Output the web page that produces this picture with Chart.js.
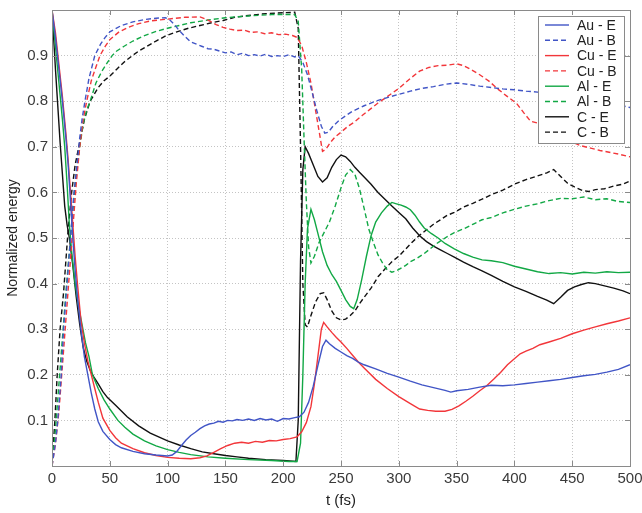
<!DOCTYPE html>
<html>
<head>
<meta charset="utf-8">
<script src="https://cdn.jsdelivr.net/npm/chart.js@4.4.1/dist/chart.umd.min.js"></script>
<style>
  html, body { margin: 0; padding: 0; background: #fff; }
  #wrap { width: 642px; height: 513px; }
</style>
</head>
<body>
<div id="wrap"><canvas id="energy" width="642" height="513"></canvas></div>
<script>
// [t (fs), normalized energy]
const auE = [[0,1],[3,0.94],[6,0.87],[9,0.8],[12,0.72],[14,0.66],[16,0.58],[18,0.5],[20,0.43],[22,0.37],[25,0.3],[28,0.24],[31,0.2],[34,0.16],[37,0.125],[40,0.097],[44,0.076],[50,0.058],[55,0.047],[60,0.04],[70,0.032],[80,0.027],[90,0.024],[100,0.022],[104,0.024],[108,0.032],[112,0.045],[116,0.057],[120,0.067],[124,0.074],[128,0.082],[132,0.088],[136,0.092],[140,0.094],[144,0.098],[148,0.096],[152,0.1],[156,0.099],[160,0.102],[165,0.1],[170,0.103],[175,0.1],[180,0.104],[185,0.101],[190,0.103],[195,0.098],[200,0.104],[205,0.103],[210,0.106],[214,0.108],[218,0.118],[222,0.14],[226,0.175],[230,0.22],[234,0.262],[237,0.276],[240,0.268],[245,0.258],[250,0.25],[255,0.242],[260,0.236],[265,0.228],[270,0.222],[280,0.213],[290,0.203],[300,0.195],[310,0.186],[320,0.178],[330,0.172],[340,0.166],[345,0.162],[350,0.165],[360,0.168],[370,0.173],[380,0.177],[390,0.176],[400,0.178],[410,0.181],[420,0.184],[430,0.187],[440,0.19],[450,0.194],[460,0.198],[470,0.201],[480,0.206],[490,0.212],[500,0.222]];
const auB = [[0,0],[3,0.05],[5,0.1],[8,0.2],[10,0.3],[13,0.4],[16,0.5],[19,0.6],[22,0.67],[24,0.72],[26,0.76],[28.5,0.8],[32,0.85],[37,0.9],[42,0.925],[46,0.94],[50,0.952],[60,0.966],[70,0.974],[80,0.979],[90,0.982],[98,0.983],[102,0.978],[106,0.968],[110,0.955],[115,0.942],[120,0.93],[125,0.925],[130,0.92],[135,0.915],[140,0.914],[145,0.91],[150,0.906],[155,0.908],[160,0.902],[165,0.905],[170,0.9],[175,0.902],[180,0.899],[185,0.903],[190,0.898],[195,0.9],[200,0.898],[205,0.902],[210,0.897],[213,0.9],[217,0.885],[221,0.858],[225,0.82],[229,0.78],[233,0.745],[236,0.73],[239,0.732],[243,0.745],[248,0.757],[254,0.768],[260,0.778],[270,0.79],[280,0.8],[290,0.808],[300,0.815],[310,0.822],[320,0.828],[330,0.832],[340,0.837],[350,0.84],[360,0.837],[370,0.833],[380,0.83],[390,0.827],[400,0.825],[410,0.822],[420,0.82],[430,0.817],[440,0.812],[450,0.81],[460,0.806],[470,0.802],[480,0.797],[490,0.792],[500,0.786]];
const cuE = [[0,1],[3,0.95],[6,0.88],[9,0.81],[12,0.73],[14,0.67],[16,0.6],[18,0.53],[20,0.46],[22,0.4],[25,0.32],[28,0.27],[31,0.23],[34,0.2],[37,0.17],[40,0.14],[44,0.105],[50,0.078],[55,0.062],[60,0.05],[70,0.038],[80,0.029],[90,0.023],[100,0.019],[110,0.017],[120,0.016],[128,0.018],[134,0.022],[140,0.03],[146,0.038],[152,0.045],[158,0.05],[164,0.052],[170,0.05],[176,0.054],[182,0.052],[188,0.056],[194,0.055],[200,0.058],[206,0.06],[212,0.064],[216,0.075],[220,0.095],[224,0.13],[227,0.18],[230,0.24],[233,0.3],[235,0.315],[238,0.305],[242,0.293],[246,0.282],[250,0.272],[255,0.258],[260,0.243],[265,0.228],[270,0.215],[280,0.19],[290,0.17],[300,0.152],[310,0.137],[318,0.125],[325,0.122],[332,0.12],[340,0.12],[346,0.124],[352,0.132],[358,0.142],[364,0.153],[370,0.165],[376,0.176],[382,0.19],[388,0.205],[394,0.222],[400,0.235],[405,0.246],[410,0.252],[416,0.258],[422,0.266],[430,0.272],[440,0.28],[450,0.29],[460,0.298],[470,0.305],[480,0.312],[490,0.318],[500,0.325]];
const cuB = [[0,0],[3,0.05],[6,0.12],[9,0.22],[12,0.32],[15,0.42],[18,0.52],[21,0.62],[24,0.7],[27,0.76],[30,0.8],[34,0.845],[38,0.875],[41.5,0.9],[46,0.92],[50,0.935],[58,0.952],[66,0.962],[75,0.97],[85,0.976],[100,0.98],[115,0.984],[128,0.985],[135,0.978],[142,0.968],[148,0.962],[154,0.958],[160,0.955],[166,0.956],[172,0.951],[178,0.952],[184,0.948],[190,0.95],[196,0.946],[202,0.947],[208,0.944],[212,0.94],[216,0.922],[220,0.885],[224,0.84],[228,0.78],[231,0.735],[234,0.69],[237,0.695],[241,0.71],[245,0.722],[250,0.732],[256,0.745],[262,0.755],[268,0.768],[275,0.782],[282,0.796],[290,0.81],[300,0.828],[310,0.85],[318,0.866],[326,0.874],[334,0.878],[342,0.879],[350,0.882],[356,0.878],[362,0.87],[370,0.858],[378,0.844],[386,0.826],[394,0.81],[402,0.795],[408,0.775],[414,0.756],[420,0.752],[426,0.745],[434,0.73],[442,0.72],[450,0.71],[458,0.702],[466,0.697],[474,0.692],[482,0.688],[490,0.684],[500,0.678]];
const alE = [[0,1],[3,0.92],[6,0.84],[9,0.76],[11,0.7],[13,0.62],[15,0.53],[17,0.47],[20,0.4],[23,0.35],[26,0.31],[29,0.27],[32,0.24],[35,0.2],[40,0.17],[45,0.145],[50,0.125],[57,0.1],[63,0.085],[70,0.07],[80,0.055],[90,0.044],[100,0.036],[110,0.03],[120,0.025],[135,0.02],[150,0.017],[170,0.014],[190,0.012],[205,0.01],[212,0.01],[215,0.05],[217,0.2],[219,0.4],[221,0.52],[224,0.563],[227,0.54],[230,0.51],[234,0.47],[238,0.44],[242,0.42],[246,0.405],[250,0.385],[254,0.365],[258,0.35],[261,0.345],[264,0.365],[268,0.41],[272,0.46],[276,0.505],[280,0.535],[285,0.555],[290,0.57],[294,0.578],[298,0.575],[302,0.572],[306,0.568],[310,0.562],[314,0.55],[318,0.535],[322,0.522],[328,0.51],[334,0.5],[340,0.488],[348,0.476],[356,0.466],[364,0.458],[372,0.452],[380,0.45],[390,0.446],[400,0.438],[410,0.432],[420,0.426],[430,0.422],[440,0.424],[450,0.421],[460,0.425],[470,0.423],[480,0.426],[490,0.424],[500,0.425]];
const alB = [[0,0],[3,0.08],[6,0.18],[9,0.28],[12,0.38],[15,0.47],[18,0.56],[21,0.64],[24,0.7],[27,0.75],[30,0.78],[33,0.8],[38,0.84],[43,0.865],[48,0.885],[52,0.9],[56,0.91],[62,0.92],[70,0.932],[80,0.944],[90,0.953],[100,0.96],[110,0.966],[120,0.972],[135,0.978],[150,0.983],[170,0.987],[190,0.99],[210,0.99],[213,0.975],[216,0.87],[218,0.72],[220,0.58],[222,0.48],[224,0.445],[227,0.46],[231,0.49],[235,0.51],[240,0.535],[245,0.57],[250,0.61],[254,0.638],[258,0.65],[262,0.64],[266,0.608],[270,0.565],[274,0.52],[278,0.49],[282,0.463],[286,0.445],[290,0.43],[294,0.425],[298,0.428],[302,0.434],[306,0.44],[310,0.448],[316,0.456],[322,0.466],[328,0.478],[334,0.49],[340,0.5],[348,0.512],[356,0.52],[364,0.53],[372,0.54],[380,0.545],[390,0.555],[400,0.563],[410,0.57],[420,0.575],[430,0.582],[440,0.587],[450,0.586],[460,0.59],[470,0.584],[480,0.586],[490,0.58],[500,0.578]];
const cE = [[0,1],[3,0.87],[5,0.79],[7,0.71],[9,0.64],[11,0.57],[13,0.53],[15,0.5],[18,0.44],[21,0.37],[24,0.31],[27,0.26],[30,0.23],[33,0.21],[36,0.196],[40,0.18],[44,0.163],[48,0.15],[55,0.133],[65,0.108],[75,0.088],[85,0.072],[100,0.055],[110,0.046],[120,0.038],[130,0.031],[140,0.027],[150,0.023],[160,0.02],[170,0.017],[185,0.014],[200,0.012],[211,0.01],[213,0.1],[215,0.45],[217,0.65],[219,0.7],[222,0.685],[226,0.66],[230,0.635],[234,0.623],[238,0.632],[242,0.655],[246,0.672],[250,0.682],[254,0.678],[258,0.668],[262,0.655],[266,0.644],[270,0.634],[276,0.618],[282,0.6],[288,0.585],[294,0.57],[300,0.556],[306,0.542],[312,0.522],[318,0.505],[324,0.492],[330,0.482],[336,0.474],[342,0.466],[348,0.458],[356,0.447],[364,0.437],[372,0.428],[380,0.418],[390,0.405],[400,0.393],[410,0.383],[420,0.372],[428,0.364],[434,0.356],[440,0.37],[446,0.385],[452,0.393],[458,0.398],[464,0.402],[470,0.4],[478,0.395],[486,0.39],[494,0.384],[500,0.378]];
const cB = [[0,0],[2.5,0.1],[4.5,0.2],[7,0.3],[10,0.38],[12,0.45],[14,0.52],[17,0.6],[20,0.66],[24,0.71],[28,0.76],[33,0.8],[40,0.83],[45,0.845],[50,0.855],[56,0.87],[62,0.885],[68,0.897],[75,0.91],[82,0.92],[90,0.932],[99,0.944],[108,0.952],[118,0.96],[128,0.966],[138,0.972],[148,0.977],[158,0.984],[170,0.988],[185,0.992],[200,0.994],[210,0.995],[213,0.96],[215,0.7],[217,0.4],[219,0.31],[221,0.305],[224,0.33],[228,0.36],[232,0.378],[235,0.38],[238,0.365],[242,0.34],[246,0.325],[250,0.32],[254,0.322],[258,0.33],[262,0.34],[266,0.356],[270,0.37],[276,0.39],[282,0.415],[288,0.432],[294,0.448],[300,0.46],[306,0.476],[312,0.492],[318,0.506],[324,0.518],[330,0.53],[336,0.54],[342,0.55],[348,0.556],[356,0.568],[364,0.576],[372,0.585],[380,0.595],[390,0.605],[400,0.618],[410,0.628],[420,0.636],[428,0.643],[434,0.65],[440,0.635],[446,0.62],[452,0.612],[458,0.605],[464,0.602],[470,0.606],[478,0.608],[486,0.614],[494,0.618],[500,0.625]];

const seriesLabels = ['Au - E', 'Au - B', 'Cu - E', 'Cu - B', 'Al - E', 'Al - B', 'C - E', 'C - B'];
const seriesData = [auE, auB, cuE, cuB, alE, alB, cE, cB];
const seriesColors = ['#4155c6', '#4155c6', '#f2363a', '#f2363a', '#12a845', '#12a845', '#111111', '#111111'];
const seriesDashed = [false, true, false, true, false, true, false, true];

const xTicks = [0, 50, 100, 150, 200, 250, 300, 350, 400, 450, 500];
const yTicks = [0.1, 0.2, 0.3, 0.4, 0.5, 0.6, 0.7, 0.8, 0.9];

const FONT = '"Liberation Sans", Arial, sans-serif';
const DASH = [5, 3];

const datasets = seriesData.map((d, i) => ({
  label: seriesLabels[i],
  data: d.map(p => ({ x: p[0], y: p[1] })),
  borderColor: seriesColors[i],
  borderWidth: 1.4,
  borderDash: seriesDashed[i] ? DASH : [],
  pointRadius: 0,
  tension: 0,
  fill: false
}));

// matlab style box, inward ticks and the legend in the top right corner
const boxPlugin = {
  id: 'box',
  afterDraw(chart) {
    const { ctx, chartArea: a, scales } = chart;
    ctx.save();
    ctx.strokeStyle = '#8a8a8a';
    ctx.lineWidth = 1;
    ctx.setLineDash([]);
    ctx.strokeRect(a.left + 0.5, a.top + 0.5, a.right - a.left, a.bottom - a.top);
    ctx.beginPath();
    xTicks.forEach(v => {
      const x = Math.round(scales.x.getPixelForValue(v)) + 0.5;
      ctx.moveTo(x, a.bottom); ctx.lineTo(x, a.bottom - 5);
      ctx.moveTo(x, a.top); ctx.lineTo(x, a.top + 5);
    });
    yTicks.forEach(v => {
      const y = Math.round(scales.y.getPixelForValue(v)) + 0.5;
      ctx.moveTo(a.left, y); ctx.lineTo(a.left + 5, y);
      ctx.moveTo(a.right, y); ctx.lineTo(a.right - 5, y);
    });
    ctx.stroke();

    // legend
    const lx = a.right - 92, ly = a.top + 6, lw = 86, lh = 127;
    ctx.fillStyle = '#fff';
    ctx.fillRect(lx, ly, lw, lh);
    ctx.strokeStyle = '#8a8a8a';
    ctx.strokeRect(lx + 0.5, ly + 0.5, lw, lh);
    ctx.font = '14px ' + FONT;
    ctx.textBaseline = 'middle';
    ctx.textAlign = 'left';
    chart.data.datasets.forEach((ds, i) => {
      const y = ly + 9 + i * 15.3;
      ctx.strokeStyle = ds.borderColor;
      ctx.lineWidth = 1.4;
      ctx.setLineDash(ds.borderDash);
      ctx.beginPath();
      ctx.moveTo(lx + 7, y); ctx.lineTo(lx + 31, y);
      ctx.stroke();
      ctx.setLineDash([]);
      ctx.fillStyle = '#222';
      ctx.fillText(ds.label, lx + 39, y + 1);
    });
    ctx.restore();
  }
};

new Chart(document.getElementById('energy'), {
  type: 'line',
  data: { datasets },
  options: {
    responsive: false,
    animation: false,
    layout: { padding: { top: 10, right: 12, left: 0, bottom: 0 } },
    plugins: { legend: { display: false }, tooltip: { enabled: false } },
    scales: {
      x: {
        type: 'linear',
        min: 0,
        max: 500,
        afterBuildTicks: s => { s.ticks = xTicks.map(v => ({ value: v })); },
        afterFit: s => { s.height = 47; s.paddingLeft = 0; s.paddingRight = 0; },
        ticks: { color: '#3a3a3a', font: { family: FONT, size: 15 }, padding: 4, maxRotation: 0 },
        grid: { color: '#c4c4c4', lineWidth: 1, drawTicks: false },
        border: { display: false, dash: [1, 2] },
        title: { display: true, text: 't (fs)', color: '#222', font: { family: FONT, size: 15 }, padding: { top: 0, bottom: 3 } }
      },
      y: {
        min: 0,
        max: 1,
        afterBuildTicks: s => { s.ticks = yTicks.map(v => ({ value: v })); },
        afterFit: s => { s.width = 52; s.paddingTop = 0; s.paddingBottom = 0; },
        ticks: { color: '#3a3a3a', font: { family: FONT, size: 15 }, padding: 4, callback: v => v.toFixed(1) },
        grid: { color: '#c4c4c4', lineWidth: 1, drawTicks: false },
        border: { display: false, dash: [1, 2] },
        title: { display: true, text: 'Normalized energy', color: '#222', font: { family: FONT, size: 14 }, padding: { top: 5, bottom: 0 } }
      }
    }
  },
  plugins: [boxPlugin]
});
</script>
</body>
</html>
